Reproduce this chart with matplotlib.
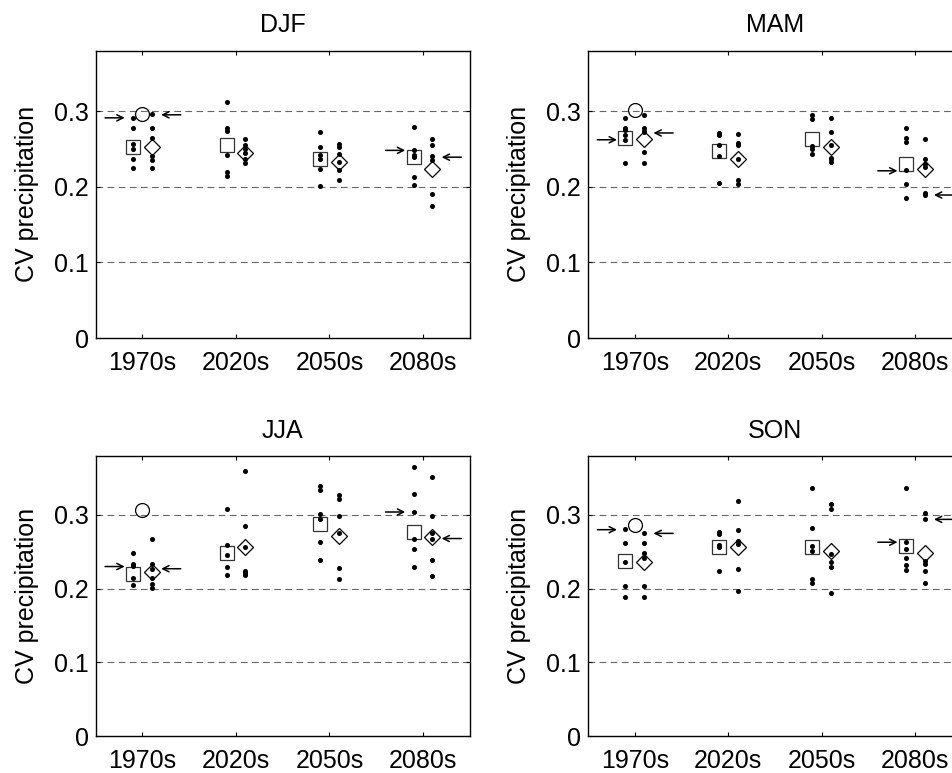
import matplotlib
matplotlib.use("Agg")
import matplotlib.pyplot as plt

plt.rcParams['font.family'] = ['Liberation Sans', 'DejaVu Sans']

decades = ['1970s', '2020s', '2050s', '2080s']
seasons = ['DJF', 'MAM', 'JJA', 'SON']

# open circle (1970s only)
circle_1970s = {'DJF': 0.296, 'MAM': 0.302, 'JJA': 0.307, 'SON': 0.287}

# square column: mean + single members
sq_mean = {
    'DJF': [0.253, 0.255, 0.237, 0.239],
    'MAM': [0.264, 0.247, 0.263, 0.230],
    'JJA': [0.220, 0.249, 0.288, 0.277],
    'SON': [0.238, 0.257, 0.257, 0.258],
}
sq_dots = {
    'DJF': [[0.291, 0.277, 0.256, 0.250, 0.236, 0.225],
            [0.312, 0.278, 0.274, 0.242, 0.219, 0.214],
            [0.272, 0.252, 0.242, 0.237, 0.224, 0.201],
            [0.279, 0.248, 0.242, 0.239, 0.213, 0.202]],
    'MAM': [[0.291, 0.278, 0.275, 0.268, 0.262, 0.231],
            [0.271, 0.268, 0.255, 0.241, 0.205],
            [0.295, 0.289, 0.254, 0.250, 0.243],
            [0.278, 0.265, 0.259, 0.222, 0.204, 0.185]],
    'JJA': [[0.249, 0.234, 0.231, 0.214, 0.205],
            [0.308, 0.259, 0.246, 0.230, 0.218],
            [0.339, 0.334, 0.301, 0.295, 0.263, 0.239],
            [0.365, 0.328, 0.304, 0.267, 0.254, 0.230]],
    'SON': [[0.281, 0.262, 0.236, 0.204, 0.189],
            [0.277, 0.274, 0.259, 0.256, 0.224],
            [0.337, 0.282, 0.258, 0.251, 0.213, 0.207],
            [0.336, 0.263, 0.254, 0.241, 0.232, 0.225]],
}

# diamond column: mean + single members
dia_mean = {
    'DJF': [0.253, 0.245, 0.232, 0.223],
    'MAM': [0.263, 0.237, 0.252, 0.224],
    'JJA': [0.223, 0.256, 0.271, 0.270],
    'SON': [0.236, 0.256, 0.251, 0.249],
}
dia_dots = {
    'DJF': [[0.296, 0.277, 0.264, 0.241, 0.235, 0.225],
            [0.263, 0.255, 0.250, 0.245, 0.236, 0.231],
            [0.256, 0.252, 0.243, 0.233, 0.222, 0.209],
            [0.263, 0.255, 0.240, 0.235, 0.190, 0.174]],
    'MAM': [[0.295, 0.278, 0.274, 0.272, 0.246, 0.231],
            [0.269, 0.258, 0.255, 0.237, 0.209, 0.203],
            [0.291, 0.272, 0.255, 0.238, 0.236, 0.233],
            [0.263, 0.237, 0.230, 0.226, 0.192, 0.189]],
    'JJA': [[0.268, 0.234, 0.227, 0.214, 0.206, 0.201],
            [0.360, 0.285, 0.257, 0.224, 0.221, 0.218],
            [0.327, 0.321, 0.299, 0.276, 0.228, 0.213],
            [0.351, 0.299, 0.275, 0.268, 0.239, 0.217]],
    'SON': [[0.276, 0.262, 0.249, 0.241, 0.204, 0.189],
            [0.319, 0.280, 0.264, 0.261, 0.227, 0.197],
            [0.315, 0.308, 0.247, 0.236, 0.230, 0.194],
            [0.302, 0.294, 0.237, 0.234, 0.224, 0.208]],
}

# arrows for 1970s and 2080s: right-pointing (square side), left-pointing (diamond side)
arrow_decades = [0, 3]
arrow_right = {'DJF': [0.291, 0.248], 'MAM': [0.262, 0.221],
               'JJA': [0.230, 0.304], 'SON': [0.280, 0.263]}
arrow_left = {'DJF': [0.295, 0.239], 'MAM': [0.271, 0.189],
              'JJA': [0.227, 0.268], 'SON': [0.275, 0.294]}

fig = plt.figure(figsize=(9.53, 7.73), dpi=100)
W, H = 953.0, 773.0
# axes boxes in pixels: left, top, width, height
boxes = [(95.7, 50.5, 374, 287.5), (588, 50.5, 374, 287.5),
         (95.7, 456, 374, 280), (588, 456, 374, 280)]

off = 0.1
fs = 18
for s, (l, t, w, h) in zip(seasons, boxes):
    ax = fig.add_axes([l / W, 1 - (t + h) / H, w / W, h / H])
    for v in [0.1, 0.2, 0.3]:
        ax.axhline(v, color='0.4', lw=0.8, dashes=(6, 4), zorder=1)

    for i in range(4):
        x = i + 1
        ax.plot([x - off] * len(sq_dots[s][i]), sq_dots[s][i], 'o', color='k', ms=2.6, zorder=3)
        ax.plot([x + off] * len(dia_dots[s][i]), dia_dots[s][i], 'o', color='k', ms=2.6, zorder=3)
        ax.plot(x - off, sq_mean[s][i], 's', mfc='none', mec='0.2', ms=9.5, mew=0.9, zorder=2)
        ax.plot(x + off, dia_mean[s][i], 'D', mfc='none', mec='k', ms=8.2, mew=0.9, zorder=2)

    ax.plot(1, circle_1970s[s], 'o', mfc='none', mec='k', ms=10, mew=0.9, zorder=2)

    for k, d in enumerate(arrow_decades):
        x = d + 1
        yr = arrow_right[s][k]
        ax.annotate('', xy=(x - 0.19, yr), xytext=(x - 0.40, yr),
                    arrowprops=dict(arrowstyle='->', color='k', lw=1.1,
                                    mutation_scale=11, shrinkA=0, shrinkB=0),
                    annotation_clip=False)
        yl = arrow_left[s][k]
        ax.annotate('', xy=(x + 0.20, yl), xytext=(x + 0.41, yl),
                    arrowprops=dict(arrowstyle='->', color='k', lw=1.1,
                                    mutation_scale=11, shrinkA=0, shrinkB=0),
                    annotation_clip=False)

    ax.set_xlim(0.5, 4.5)
    ax.set_ylim(0, 0.38)
    ax.set_xticks([1, 2, 3, 4])
    ax.set_xticklabels(decades)
    ax.set_yticks([0, 0.1, 0.2, 0.3])
    ax.set_yticklabels(['0', '0.1', '0.2', '0.3'])
    ax.tick_params(direction='in', top=True, right=True, length=3, width=0.8,
                   labelsize=fs)
    ax.tick_params(axis='x', pad=9)
    ax.tick_params(axis='y', pad=5)
    for sp in ax.spines.values():
        sp.set_linewidth(1.0)
    ax.set_title(s, fontsize=fs, pad=13)
    ax.set_ylabel('CV precipitation', fontsize=fs, labelpad=11)

fig.savefig('out.png', dpi=100)
